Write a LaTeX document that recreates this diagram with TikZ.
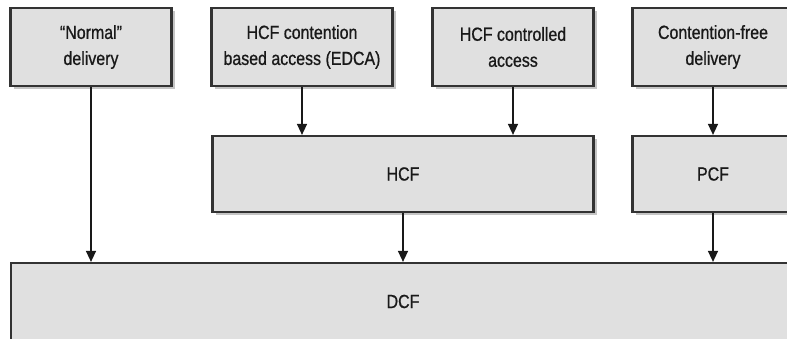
\documentclass[tikz,border=0pt]{standalone}
\usepackage{fontspec}
\setmainfont[FakeStretch=0.84,FakeBold=0.8]{Liberation Sans}
\usetikzlibrary{arrows.meta,shadows}
\definecolor{boxfill}{HTML}{E0E0E0}
\definecolor{boxline}{HTML}{333333}
\tikzset{
  blk/.style={draw=boxline,line width=2.2pt,fill=boxfill,minimum height=78pt,
    align=center,font=\fontsize{19}{26}\selectfont,text=black!90,
    drop shadow={shadow xshift=3pt,shadow yshift=-3pt,fill=black!45,opacity=0.5}},
  flow/.style={line width=1.4pt,draw=black!90,-{Triangle[length=11pt,width=10pt]}}
}
\begin{document}
\begin{tikzpicture}[x=1pt,y=-1pt]
\pgfmathsetmacro{\kw}{161}
\pgfmathsetmacro{\ktop}{47}
\pgfmathsetmacro{\kmid}{174}
\useasboundingbox (0,0) rectangle (787,339);
\fill[white] (0,0) rectangle (787,339);
\clip (0,0) rectangle (787,339);
% top row
\node[blk,minimum width=\kw pt] (normal) at (91,\ktop) {``Normal''\\delivery};
\node[blk,minimum width=181pt] (edca) at (302,\ktop) {HCF contention\\based access (EDCA)};
\node[blk,minimum width=\kw pt] (hcca) at (513,\ktop) {HCF controlled\\access};
\node[blk,minimum width=\kw pt] (cfree) at (713,\ktop) {Contention-free\\delivery};
% middle row
\node[blk,minimum width=381pt,minimum height=76pt] (hcf) at (403,\kmid) {HCF};
\node[blk,minimum width=\kw pt,minimum height=76pt] (pcf) at (713,\kmid) {PCF};
% bottom
\node[blk,minimum width=784pt,minimum height=77pt] (dcf) at (403,301.5) {DCF};
% arrows
\foreach \a/\b in {edca/hcf,hcca/hcf,cfree/pcf}{\draw[flow](\a.south)--(\a.south|-\b.north);}
\foreach \a/\b in {normal/dcf,hcf/dcf,pcf/dcf}{\draw[flow](\a.south)--(\a.south|-\b.north);}
\end{tikzpicture}
\end{document}
